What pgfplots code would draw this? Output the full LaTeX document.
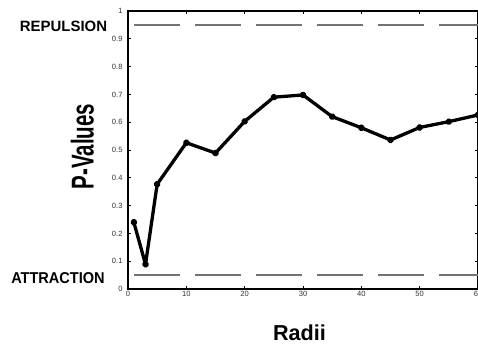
\documentclass[border=0pt]{standalone}
\usepackage{pgfplots}
\pgfplotsset{compat=1.18}
\usepackage{fontspec}
\setmainfont{Liberation Sans}
\begin{document}
\begin{tikzpicture}[x=1bp,y=1bp]
\begin{axis}[
  at={(128bp,55bp)}, anchor=south west,
  scale only axis, width=350bp, height=278bp,
  xmin=0, xmax=60, ymin=0, ymax=1,
  xtick={0,10,20,30,40,50,60},
  ytick={0,0.1,0.2,0.3,0.4,0.5,0.6,0.7,0.8,0.9,1},
  tick align=inside, major tick length=3bp,
  axis line style={line width=1.3bp},
  tick style={black, line width=0.8bp},
  ticklabel style={font=\fontsize{7.6}{9}\selectfont, text=black!80},
  /pgf/number format/assume math mode=true,
  /pgf/number format/fixed,
  yticklabel style={xshift=-2bp},
  xticklabel style={yshift=1bp},
  clip=false,
]
\addplot[black!55, line width=1.4bp, dash pattern=on 46bp off 15bp] coordinates {(1,0.95) (60,0.95)};
\addplot[black!55, line width=1.4bp, dash pattern=on 46bp off 15bp] coordinates {(1,0.05) (60,0.05)};
\addplot[black, line width=3.3bp, line join=round, mark=*, mark size=1.9bp] coordinates {
(1,0.240) (3,0.089) (5,0.377) (10,0.526) (15,0.489) (20,0.603) (25,0.690) (30,0.698)
(35,0.620) (40,0.580) (45,0.536) (50,0.581) (55,0.602) (60,0.626)
};
\end{axis}
\node[font=\fontsize{15}{17}\selectfont\bfseries] at (63.5,317.5) {REPULSION};
\node[font=\fontsize{14.6}{17}\selectfont\bfseries, yscale=1.08] at (58,66.2) {ATTRACTION};
\node[font=\fontsize{31.7}{34}\selectfont\bfseries, rotate=90, xscale=0.65] at (82.3,197.5) {P-Values};
\node[font=\fontsize{21.7}{24}\selectfont\bfseries, inner sep=1bp] at (299.5,11.5) {Radii};
\pgfresetboundingbox
\useasboundingbox (0,0) rectangle (478,344);
\end{tikzpicture}
\end{document}
